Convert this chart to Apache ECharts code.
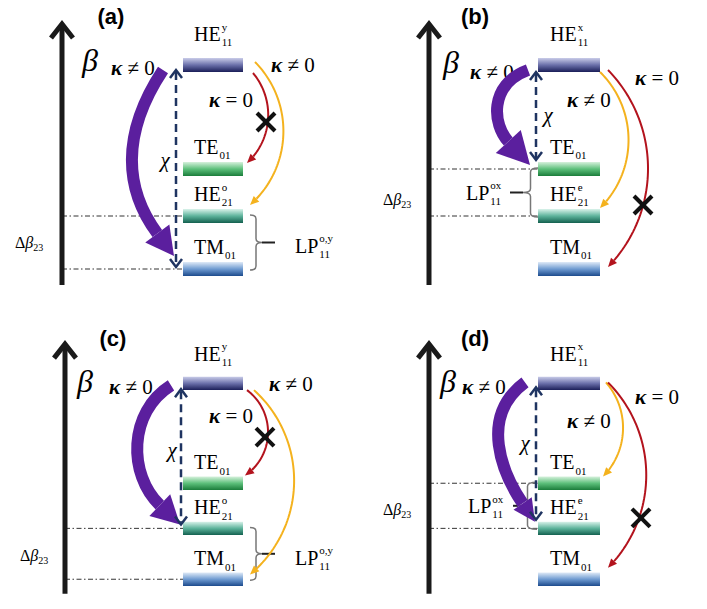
<!DOCTYPE html>
<html><head><meta charset="utf-8">
<script src="https://cdn.jsdelivr.net/npm/echarts@6/dist/echarts.min.js"></script>
<style>html,body{margin:0;padding:0;background:#fff}#c{width:707px;height:609px}</style>
</head><body><div id="c"></div>
<script>
// ---------------- data ----------------
const betaLevels = [235, 131, 84, 31];            // propagation constants (arb. units), top -> bottom
const modeMain = ['HE', 'TE', 'HE', 'TM'];
const modeSub = ['11', '01', '21', '01'];
const supPolY = ['y', '', 'o', ''];
const supPolX = ['x', '', 'e', ''];
const panelTags = ['(a)', '(b)', '(c)', '(d)'];
const panelPol = ['y', 'x', 'y', 'x'];
const purpleTarget = [3, 1, 2, 2];   // strong coupling, kappa != 0
const yellowTarget = [2, 2, 3, 1];   // kappa != 0
const redTarget = [1, 3, 1, 3];      // kappa = 0 (crossed out)
const chiTarget = [3, 1, 2, 2];      // dashed chi link
const lpPair = [[2, 3], [1, 2], [2, 3], [1, 2]];
const lpSup = ['o,y', 'ox', 'o,y', 'ox'];
const kappaPurple = ' ≠ 0', kappaYellow = ' ≠ 0', kappaRed = ' = 0';

// ---------------- layout / style ----------------
const SERIF = '"Liberation Serif", "Times New Roman", serif';
const SANS = '"Liberation Sans", Arial, sans-serif';
const PURPLE = '#5b1f9e', RED = '#b3131d', YELLOW = '#f4b21e', NAVY = '#1f3461';
const BAR_H = 14;
const grads = [
  ['#c9cce9', '#6b70aa', '#1a1e58'],
  ['#d6f1dc', '#5dc07b', '#1b7d3b'],
  ['#daf3eb', '#5db39b', '#13604f'],
  ['#dfeaf7', '#6f9bd1', '#1d4b8d']
];
const layout = [
  { axisX: 62, axisB: [15, 278], barL: 183, barR: 243, labelDx: 11, tag: [111, 284], beta: [90, 240],
    kP: [111, 232], kY: [271, 235], kR: [209, 200], chiLab: [165, 140], cross: [266, 178], dbX: 15, dbDy: 0,
    lp: { side: 'right', x0: 250, tip: 262, line: 275, textX: 295, dy: -3 },
    purple: { s: [163, -5], c1: [120, 165], c2: [125, 110], t: [174, 13], L: 28, W: 15 },
    chi: { x: 176, top: -5, bot: 2 },
    yellow: { s: [255, 3], m: [283, 160], t: [250, 11] },
    red: { s: [253, -8], m: [268, 180], t: [247, 6] } },
  { axisX: 76, axisB: [15, 278], barL: 185, barR: 247, labelDx: 12, tag: [122, 284], beta: [98, 238],
    kP: [117, 228], kY: [214, 200], kR: [282, 222], chiLab: [195, 185], cross: [290, 95], dbX: 30, dbDy: -7,
    lp: { side: 'left', x0: 185, tip: 170, line: 157, textX: 113, dy: 0 },
    purple: { s: [175, -5], c1: [135, 215], c2: [140, 175], t: [177, 4], L: 32, W: 17 },
    chi: { x: 183, top: -7, bot: 9 },
    yellow: { s: [247, -7], m: [275, 170], t: [247, 8] },
    red: { s: [255, -5], m: [295, 130], t: [255, 2] } },
  { axisX: 65, axisB: [16, 278], barL: 183, barR: 243, labelDx: 11, tag: [113, 282], beta: [85, 238],
    kP: [109, 231], kY: [269, 234], kR: [209, 201], chiLab: [172, 166], cross: [265, 179], dbX: 20, dbDy: -2,
    lp: { side: 'right', x0: 250, tip: 262, line: 275, textX: 295, dy: -4 },
    purple: { s: [171, -2], c1: [128, 205], c2: [128, 140], t: [180, 4], L: 28, W: 15 },
    chi: { x: 181, top: -6, bot: 4 },
    yellow: { s: [254, -7], m: [293, 151], t: [250, 5] },
    red: { s: [247, -7], m: [268, 186], t: [245, 8] } },
  { axisX: 76, axisB: [16, 278], barL: 185, barR: 247, labelDx: 12, tag: [122, 282], beta: [95, 238],
    kP: [109, 231], kY: [214, 196], kR: [282, 221], chiLab: [172, 173], cross: [288, 95], dbX: 30, dbDy: -4,
    lp: { side: 'left', x0: 184, tip: 165, line: 160, textX: 115, dy: 0 },
    purple: { s: [172, 1], c1: [125, 200], c2: [150, 140], t: [182, 7], L: 22, W: 11 },
    chi: { x: 183, top: -4, bot: 9 },
    yellow: { s: [253, 1], m: [270, 191], t: [250, 7] },
    red: { s: [255, 1], m: [293, 131], t: [255, 12] } }
];
const gridPos = [[0, 0], [353, 0], [0, 321], [353, 321]];

// ---------------- helpers ----------------
const mctx = document.createElement('canvas').getContext('2d');
function tw(t, font) { mctx.font = font; return mctx.measureText(t).width; }
function T(x, y, text, font, extra) {
  return { type: 'text', style: Object.assign({ x: x, y: y, text: text, font: font, fill: '#000', align: 'left', verticalAlign: 'middle' }, extra || {}) };
}
function composite(x, y, main, sub, sup, size) {
  const f = size + 'px ' + SERIF, sf = Math.round(size * 0.55) + 'px ' + SERIF;
  const w = tw(main, f);
  const out = [T(x, y, main, f)];
  if (sub) out.push(T(x + w + 1, y + size * 0.42, sub, sf));
  if (sup) out.push(T(x + w + 1, y - size * 0.36, sup, sf));
  return out;
}
function kappaLabel(x, y, rest) {
  const fk = 'bold italic 21px ' + SERIF, fr = '21px ' + SERIF;
  const w = tw('κ', fk);
  return [T(x, y, 'κ', fk), T(x + w, y, rest, fr)];
}
function arcPts(S, M, E, n) {
  const ax = S[0], ay = S[1], bx = M[0], by = M[1], cx = E[0], cy = E[1];
  const d = 2 * (ax * (by - cy) + bx * (cy - ay) + cx * (ay - by));
  const ux = ((ax * ax + ay * ay) * (by - cy) + (bx * bx + by * by) * (cy - ay) + (cx * cx + cy * cy) * (ay - by)) / d;
  const uy = ((ax * ax + ay * ay) * (cx - bx) + (bx * bx + by * by) * (ax - cx) + (cx * cx + cy * cy) * (bx - ax)) / d;
  const r = Math.hypot(ax - ux, ay - uy);
  const norm = a => { while (a < 0) a += 2 * Math.PI; while (a >= 2 * Math.PI) a -= 2 * Math.PI; return a; };
  const a0 = Math.atan2(ay - uy, ax - ux), a1 = Math.atan2(by - uy, bx - ux), a2 = Math.atan2(cy - uy, cx - ux);
  const d1 = norm(a1 - a0), d2 = norm(a2 - a0);
  const sweep = d1 < d2 ? d2 : d2 - 2 * Math.PI;
  const pts = [];
  for (let i = 0; i <= n; i++) { const a = a0 + sweep * i / n; pts.push([ux + r * Math.cos(a), uy + r * Math.sin(a)]); }
  return pts;
}
function thinArrow(c, S, M, E, color) {
  const pts = arcPts(S, M, E, 60);
  const q = pts[pts.length - 4];
  let dx = E[0] - q[0], dy = E[1] - q[1]; const dl = Math.hypot(dx, dy); dx /= dl; dy /= dl;
  const Lh = 9, Wh = 4;
  const B = [E[0] - dx * Lh, E[1] - dy * Lh];
  const body = pts.filter(p => Math.hypot(p[0] - E[0], p[1] - E[1]) > Lh); body.push(B);
  c.push({ type: 'polyline', shape: { points: body }, style: { stroke: color, lineWidth: 2, fill: 'none' } });
  c.push({ type: 'polygon', shape: { points: [E, [B[0] - dy * Wh, B[1] + dx * Wh], [B[0] + dy * Wh, B[1] - dx * Wh]] }, style: { fill: color } });
}
function bracePath(x0, xt, yTop, yBot) {
  const xv = (x0 + xt) / 2, ym = (yTop + yBot) / 2, r = 4;
  return 'M' + x0 + ' ' + yTop + ' Q' + xv + ' ' + yTop + ' ' + xv + ' ' + (yTop + r) +
    ' L' + xv + ' ' + (ym - r) + ' Q' + xv + ' ' + ym + ' ' + xt + ' ' + ym +
    ' Q' + xv + ' ' + ym + ' ' + xv + ' ' + (ym + r) + ' L' + xv + ' ' + (yBot - r) +
    ' Q' + xv + ' ' + yBot + ' ' + x0 + ' ' + yBot;
}

// ---------------- chart ----------------
const chart = echarts.init(document.getElementById('c'), null, { renderer: 'svg', width: 707, height: 609 });
const series = [];
layout.forEach((L, i) => {
  const sup = panelPol[i] === 'y' ? supPolY : supPolX;
  // guides, axis, brackets
  series.push({
    type: 'custom', xAxisIndex: i, yAxisIndex: i, z: 1, silent: true, data: [[0, 0]],
    renderItem: (params, api) => {
      const c = [];
      const [lo, hi] = lpPair[i];
      [lo, hi].forEach(k => {
        const a = api.coord([L.axisX, betaLevels[k]]), b = api.coord([L.barL, betaLevels[k]]);
        c.push({ type: 'line', shape: { x1: a[0], y1: a[1], x2: b[0], y2: b[1] }, style: { stroke: '#333', lineWidth: 1, lineDash: [5, 2.5, 1.5, 2.5] } });
      });
      const midB = (betaLevels[lo] + betaLevels[hi]) / 2;
      const dp = api.coord([L.dbX, midB + L.dbDy]);
      const f15 = '16px ' + SERIF, fi15 = 'italic 16px ' + SERIF;
      const wD = tw('Δ', f15), wB = tw('β', fi15);
      c.push(T(dp[0], dp[1], 'Δ', f15));
      c.push(T(dp[0] + wD, dp[1], 'β', fi15));
      c.push(T(dp[0] + wD + wB, dp[1] + 5, '23', '10px ' + SERIF));
      const bt = api.coord([L.lp.x0, betaLevels[lo] + 1]), bb = api.coord([L.lp.x0, betaLevels[hi] - 1]);
      const tipP = api.coord([L.lp.tip, midB]);
      c.push({ type: 'path', shape: { pathData: bracePath(bt[0], tipP[0], bt[1], bb[1]) }, style: { stroke: '#777', lineWidth: 1.5, fill: 'none' } });
      const lnP = api.coord([L.lp.line, midB]);
      c.push({ type: 'line', shape: { x1: tipP[0], y1: tipP[1], x2: lnP[0], y2: lnP[1] }, style: { stroke: '#222', lineWidth: 2 } });
      const lpP = api.coord([L.lp.textX, midB + L.lp.dy]);
      c.push(...composite(lpP[0], lpP[1], 'LP', '11', lpSup[i], 20));
      const a0 = api.coord([L.axisX, L.axisB[0]]), a1 = api.coord([L.axisX, L.axisB[1]]);
      c.push({ type: 'line', shape: { x1: a0[0], y1: a0[1], x2: a1[0], y2: a1[1] + 2 }, style: { stroke: '#1a1a1a', lineWidth: 5 } });
      c.push({ type: 'polyline', shape: { points: [[a1[0] - 11, a1[1] + 16], [a1[0], a1[1] + 2], [a1[0] + 11, a1[1] + 16]] }, style: { stroke: '#1a1a1a', lineWidth: 5, fill: 'none', lineJoin: 'miter' } });
      const bp = api.coord(L.beta);
      c.push(T(bp[0], bp[1], 'β', 'italic 32px ' + SERIF, { align: 'center' }));
      const tp = api.coord(L.tag);
      c.push(T(tp[0], tp[1], panelTags[i], 'bold 22px ' + SANS, { align: 'center' }));
      return { type: 'group', children: c };
    }
  });
  // mode levels
  series.push({
    type: 'custom', xAxisIndex: i, yAxisIndex: i, z: 2, silent: true,
    data: betaLevels.map((b, k) => [k, b]),
    renderItem: (params, api) => {
      const k = params.dataIndex, b = api.value(1);
      const p0 = api.coord([L.barL, b + BAR_H / 2]), p1 = api.coord([L.barR, b - BAR_H / 2]);
      const g = grads[k];
      const c = [{ type: 'rect', shape: { x: p0[0], y: p0[1], width: p1[0] - p0[0], height: p1[1] - p0[1] },
        style: { fill: new echarts.graphic.LinearGradient(0, 0, 0, 1, [{ offset: 0, color: g[0] }, { offset: 0.5, color: g[1] }, { offset: 1, color: g[2] }]) } }];
      const lp = api.coord([L.barL + L.labelDx, b + (k === 0 ? 31 : 22)]);
      c.push(...composite(lp[0], lp[1], modeMain[k], modeSub[k], sup[k], 20));
      return { type: 'group', children: c };
    }
  });
  // couplings
  series.push({
    type: 'custom', xAxisIndex: i, yAxisIndex: i, z: 3, silent: true, data: [[0, 0]],
    renderItem: (params, api) => {
      const c = [];
      [[L.kP, kappaPurple], [L.kY, kappaYellow], [L.kR, kappaRed]].forEach(([p, t]) => {
        const q = api.coord(p); c.push(...kappaLabel(q[0], q[1], t));
      });
      const b0 = betaLevels[0];
      const pr = L.purple;
      const S = api.coord([pr.s[0], b0 + pr.s[1]]);
      const E = api.coord([pr.t[0], betaLevels[purpleTarget[i]] + pr.t[1]]);
      const C1 = api.coord(pr.c1), C2 = api.coord(pr.c2);
      let dx = E[0] - C2[0], dy = E[1] - C2[1]; const dl = Math.hypot(dx, dy); dx /= dl; dy /= dl;
      const B = [E[0] - dx * pr.L, E[1] - dy * pr.L];
      c.push({ type: 'bezierCurve', shape: { x1: S[0], y1: S[1], cpx1: C1[0], cpy1: C1[1], cpx2: C2[0], cpy2: C2[1], x2: B[0], y2: B[1] },
        style: { stroke: PURPLE, lineWidth: 12, fill: 'none', lineCap: 'butt' } });
      c.push({ type: 'polygon', shape: { points: [E, [B[0] - dy * pr.W, B[1] + dx * pr.W], [B[0] + dy * pr.W, B[1] - dx * pr.W]] }, style: { fill: PURPLE } });
      const y = L.yellow, r = L.red;
      thinArrow(c, api.coord([y.s[0], b0 + y.s[1]]), api.coord(y.m), api.coord([y.t[0], betaLevels[yellowTarget[i]] + y.t[1]]), YELLOW);
      thinArrow(c, api.coord([r.s[0], b0 + r.s[1]]), api.coord(r.m), api.coord([r.t[0], betaLevels[redTarget[i]] + r.t[1]]), RED);
      const X = api.coord(L.cross), s = 9;
      c.push({ type: 'line', shape: { x1: X[0] - s, y1: X[1] - s, x2: X[0] + s, y2: X[1] + s }, style: { stroke: '#111', lineWidth: 4 } });
      c.push({ type: 'line', shape: { x1: X[0] - s, y1: X[1] + s, x2: X[0] + s, y2: X[1] - s }, style: { stroke: '#111', lineWidth: 4 } });
      const P = api.coord([L.chi.x, b0 + L.chi.top]), Q = api.coord([L.chi.x, betaLevels[chiTarget[i]] + L.chi.bot]);
      c.push({ type: 'line', shape: { x1: P[0], y1: P[1] + 2, x2: Q[0], y2: Q[1] - 2 }, style: { stroke: NAVY, lineWidth: 2.5, lineDash: [8, 5] } });
      c.push({ type: 'polyline', shape: { points: [[P[0] - 6, P[1] + 8], P, [P[0] + 6, P[1] + 8]] }, style: { stroke: NAVY, lineWidth: 2.5, fill: 'none' } });
      c.push({ type: 'polyline', shape: { points: [[Q[0] - 6, Q[1] - 8], Q, [Q[0] + 6, Q[1] - 8]] }, style: { stroke: NAVY, lineWidth: 2.5, fill: 'none' } });
      const cl = api.coord(L.chiLab);
      c.push(T(cl[0], cl[1], 'χ', 'italic 21px ' + SERIF, { align: 'center' }));
      return { type: 'group', children: c };
    }
  });
});

chart.setOption({
  animation: false,
  backgroundColor: '#fff',
  grid: gridPos.map(g => ({ left: g[0], top: g[1], width: 353, height: 300, show: false })),
  xAxis: gridPos.map((g, i) => ({ type: 'value', gridIndex: i, min: 0, max: 353, show: false })),
  yAxis: gridPos.map((g, i) => ({ type: 'value', gridIndex: i, min: 0, max: 300, show: false })),
  series: series
});
</script>
</body></html>
